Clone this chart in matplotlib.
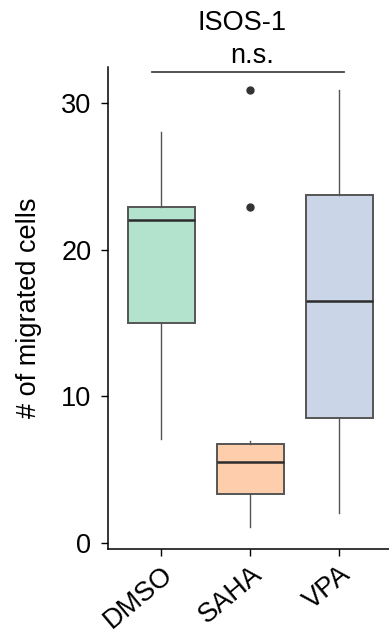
import matplotlib
matplotlib.use("Agg")
import matplotlib.pyplot as plt

plt.rcParams.update({
    "font.family": ["Liberation Sans", "DejaVu Sans"],
    "font.size": 19.5,
    "axes.linewidth": 1.1,
})

groups = ["DMSO", "SAHA", "VPA"]
colors = ["#b3e2cd", "#fdcdac", "#cbd5e8"]
medians = [22.0, 5.5, 16.5]
q1 = [15.0, 3.3, 8.5]
q3 = [22.9, 6.75, 23.7]
whis_lo = [7.05, 1.1, 2.0]
whis_hi = [28.0, 6.95, 30.9]
fliers = [[], [30.9, 22.9], []]

stats = []
for i, name in enumerate(groups):
    stats.append({
        "label": name, "med": medians[i], "q1": q1[i], "q3": q3[i],
        "whislo": whis_lo[i], "whishi": whis_hi[i], "fliers": fliers[i],
    })

fig = plt.figure(figsize=(3.89, 6.33), dpi=100)
ax = fig.add_axes([0.2776, 0.1322, 0.7224, 0.7620])

bp = ax.bxp(
    stats, positions=range(len(groups)), widths=0.75, patch_artist=True,
    showcaps=False,
    boxprops=dict(edgecolor="#555555", linewidth=1.4),
    medianprops=dict(color="#2b2b2b", linewidth=1.8),
    whiskerprops=dict(color="#555555", linewidth=1.0),
    flierprops=dict(marker="o", markerfacecolor="#333333",
                    markeredgecolor="#333333", markersize=5),
)
for patch, c in zip(bp["boxes"], colors):
    patch.set_facecolor(c)

ax.set_xlim(-0.6, 2.56)
ax.set_ylim(-0.45, 32.47)
ax.set_yticks([0, 10, 20, 30])
ax.spines["top"].set_visible(False)
ax.spines["right"].set_visible(False)
ax.tick_params(direction="out", length=5, width=1.0, labelsize=19.5)
ax.tick_params(axis="y", pad=7)
ax.set_xticks(range(len(groups)))
ax.set_xticklabels(groups, rotation=40, ha="right", rotation_mode="anchor")
ax.set_ylabel("# of migrated cells", fontsize=19.5, labelpad=14)

# significance bar across all groups
bar_y = 32.1
ax.plot([-0.1, 2.05], [bar_y, bar_y], color="#444444", linewidth=1.3,
        clip_on=False)
ax.annotate("n.s.", xy=(1.02, bar_y), xytext=(0, 7),
            textcoords="offset points", ha="center", va="baseline",
            fontsize=19.5, annotation_clip=False)

fig.text(242 / 389, 1 - 30 / 633, "ISOS-1", ha="center", va="baseline",
         fontsize=19.5)

fig.savefig("out.png", dpi=100)
